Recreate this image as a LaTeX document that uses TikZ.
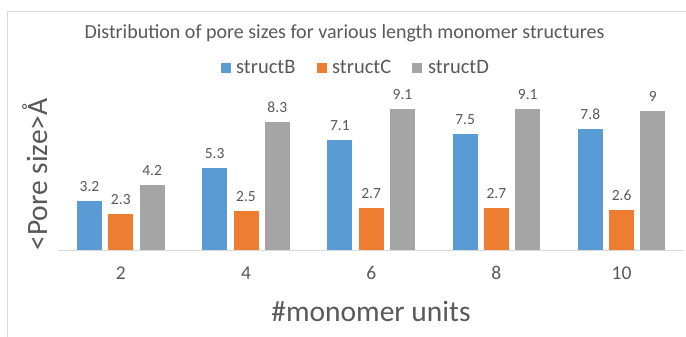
\documentclass[tikz,border=0pt]{standalone}
\usepackage{fontspec}
\setmainfont{Carlito}
\definecolor{txt}{HTML}{595959}
\definecolor{cB}{HTML}{5B9BD5}
\definecolor{cC}{HTML}{ED7D31}
\definecolor{cD}{HTML}{A5A5A5}
\definecolor{gridc}{HTML}{D9D9D9}
\begin{document}
\begin{tikzpicture}[x=1pt,y=-1pt,
  lbl/.style={text=txt,inner sep=0pt,anchor=base},
  titletxt/.style={lbl,font=\fontsize{20}{24}\selectfont},
  legtxt/.style={lbl,anchor=base west,font=\fontsize{20.5}{24}\selectfont},
  valtxt/.style={lbl,font=\fontsize{15.5}{18}\selectfont},
  ticktxt/.style={lbl,font=\fontsize{19.5}{22}\selectfont},
  axtxt/.style={lbl,font=\fontsize{29.5}{34}\selectfont},
  legsq/.style={minimum size=10pt,inner sep=0pt,draw=none}]
\useasboundingbox (0,0) rectangle (686,337);
\fill[white] (0,0) rectangle (686,337);
% frame
\draw[gridc,line width=1.5pt] (7.7,345) -- (7.7,11.7) -- (695,11.7);
% title
\node[titletxt] (title) at (344.5,39) {Distribution of pore sizes for various length monomer structures};
% legend
\node[legsq,fill=cB] (lsqB) at (225.7,68) {};
\node[legtxt] (ltB) at (236,73.5) {structB};
\node[legsq,fill=cC] (lsqC) at (321.7,68) {};
\node[legtxt] (ltC) at (332,73.5) {structC};
\node[legsq,fill=cD] (lsqD) at (417,68) {};
\node[legtxt] (ltD) at (428,73.5) {structD};
% axis
\coordinate (ax0) at (58.2,250);
\coordinate (ax1) at (684.2,250);
\draw[gridc,line width=1pt] (ax0) -- (ax1);
% bars
\foreach \i/\b/\c/\d/\t in {0/3.2/2.3/4.2/2, 1/5.3/2.5/8.3/4, 2/7.1/2.7/9.1/6, 3/7.5/2.7/9.1/8, 4/7.8/2.6/9/10}{
  \pgfmathsetmacro\cx{120.8+125.2*\i}
  \fill[cB] ({\cx-31.3-12.5},250) rectangle ({\cx-31.3+12.5},{250-15.46*\b});
  \fill[cC] ({\cx-12.5},250) rectangle ({\cx+12.5},{250-15.46*\c});
  \fill[cD] ({\cx+31.3-12.5},250) rectangle ({\cx+31.3+12.5},{250-15.46*\d});
  \node[valtxt] (vB\i) at ({\cx-31.3},{250-15.46*\b-9.5}) {\b};
  \node[valtxt] (vC\i) at ({\cx},{250-15.46*\c-9.5}) {\c};
  \node[valtxt] (vD\i) at ({\cx+31.3},{250-15.46*\d-9.5}) {\d};
  \node[ticktxt] (tick\i) at ({\cx},279) {\t};
}
% axis titles
\node[axtxt] (xtitle) at (371,321) {\#monomer units};
\node[axtxt,rotate=90] (ytitle) at (47,174.5) {<Pore size>Å};
\end{tikzpicture}
\end{document}
